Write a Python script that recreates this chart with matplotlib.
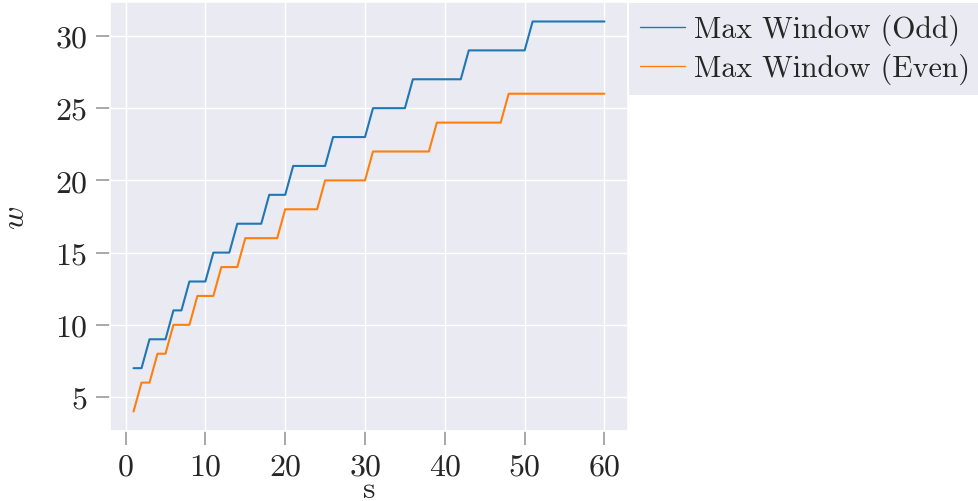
import matplotlib
matplotlib.use("Agg")
import matplotlib.pyplot as plt
import seaborn as sns
import numpy as np

s = list(range(1, 61))
odd_levels = [(1, 2, 7), (3, 5, 9), (6, 7, 11), (8, 10, 13), (11, 13, 15), (14, 17, 17),
              (18, 20, 19), (21, 25, 21), (26, 30, 23), (31, 35, 25), (36, 42, 27),
              (43, 50, 29), (51, 60, 31)]
even_levels = [(1, 1, 4), (2, 3, 6), (4, 5, 8), (6, 8, 10), (9, 11, 12), (12, 14, 14),
               (15, 19, 16), (20, 24, 18), (25, 30, 20), (31, 38, 22), (39, 47, 24),
               (48, 60, 26)]

def expand(levels):
    out = []
    for a, b, v in levels:
        out += [v] * (b - a + 1)
    return out

w_odd = expand(odd_levels)
w_even = expand(even_levels)

sns.set_theme(style="darkgrid")
plt.rcParams['font.family'] = ['cmr10']
plt.rcParams['mathtext.fontset'] = 'cm'
plt.rcParams['axes.formatter.use_mathtext'] = True
plt.rcParams['axes.unicode_minus'] = False

fig = plt.figure(figsize=(9.79, 5.02), dpi=100)
ax = fig.add_axes([110/979, 1 - 432/502, (628-110)/979, (432-3)/502])
l1, = ax.plot(s, w_odd, color='#1f77b4', lw=1.5, label='Max Window (Odd)')
l2, = ax.plot(s, w_even, color='#ff7f0e', lw=1.5, label='Max Window (Even)')

ax.set_xticks([0, 10, 20, 30, 40, 50, 60])
ax.set_yticks([5, 10, 15, 20, 25, 30])
ax.tick_params(axis='both', which='major', labelsize=23, length=10, width=1.2,
               color='#999999', left=True, bottom=True, pad=6)
ax.set_xlabel('s', fontsize=23, labelpad=-4)
ax.set_ylabel('$w$', fontsize=23, labelpad=18)

leg = ax.legend(loc='upper left', bbox_to_anchor=(1.0, 1.0), fontsize=21.5,
                frameon=True, facecolor='#EAEAF2', edgecolor='none', framealpha=1,
                handlelength=1.5, handletextpad=0.3, borderaxespad=0.05,
                labelspacing=0.25, borderpad=0.35, fancybox=False)
for h in leg.get_lines():
    h.set_linewidth(1.0)

fig.savefig('out.png', dpi=100)
